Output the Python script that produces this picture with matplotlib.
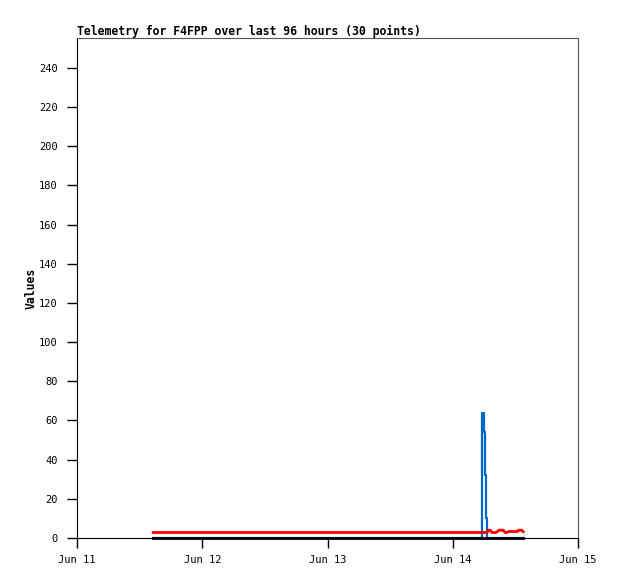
import datetime as dt
import matplotlib
matplotlib.use("Agg")
import matplotlib.pyplot as plt
import matplotlib.dates as mdates

# Sample times, hours after Jun 11 00:00
hours = [14.6, 77.5, 77.7, 77.9, 78.1, 78.3, 78.5, 78.7, 78.9, 79.2,
         79.5, 79.9, 80.3, 80.9, 81.3, 81.7, 82.0, 82.3, 82.7, 83.0,
         83.3, 83.6, 83.9, 84.2, 84.4, 84.6, 84.8, 85.0, 85.2, 85.5]

# blue channel (spike)
blue_vals = [0, 0, 64, 54, 32, 10, 0, 0, 0, 0,
             0, 0, 0, 0, 0, 0, 0, 0, 0, 0,
             0, 0, 0, 0, 0, 0, 0, 0, 0, 0]
# red channel
red_vals = [2.8, 2.8, 2.8, 2.8, 2.8, 2.8, 2.8, 3.2, 4.0, 4.0,
            2.8, 2.8, 2.8, 4.0, 4.0, 4.0, 2.8, 2.8, 3.3, 3.3,
            3.3, 3.3, 3.3, 3.3, 3.3, 4.0, 4.0, 4.0, 4.0, 3.2]
# black channel
black_vals = [0] * 30

start = dt.datetime(2023, 6, 11)
times = [start + dt.timedelta(hours=h) for h in hours]

plt.rcParams['font.family'] = ['DejaVu Sans Mono']

fig = plt.figure(figsize=(6.18, 5.79), dpi=100)
ax = fig.add_axes([77 / 618, 1 - 538 / 579, 501 / 618, 500 / 579])

ax.plot(times, blue_vals, color='#0066cc', lw=1.6, drawstyle='steps-post', clip_on=False)
ax.plot(times, red_vals, color='#ff0000', lw=2.0, clip_on=False)
ax.plot(times, black_vals, color='black', lw=2.0, clip_on=False)

ax.set_xlim(start, start + dt.timedelta(days=4))
ax.set_ylim(0, 255.3)
ax.set_yticks(range(0, 241, 20))
ax.xaxis.set_major_locator(mdates.DayLocator())
ax.xaxis.set_major_formatter(mdates.DateFormatter('%b %d'))

ax.tick_params(direction='out', length=7, width=1, labelsize=7.5, pad=7)
ax.tick_params(axis='x', pad=5)
for s in ['top', 'right']:
    ax.spines[s].set_color('#555555')

ax.set_title('Telemetry for F4FPP over last 96 hours (30 points)', loc='left',
             fontsize=8.3, fontweight='bold', pad=2)
ax.set_ylabel('Values', fontsize=8.3, fontweight='bold', labelpad=1)

fig.savefig('out.png', dpi=100)
